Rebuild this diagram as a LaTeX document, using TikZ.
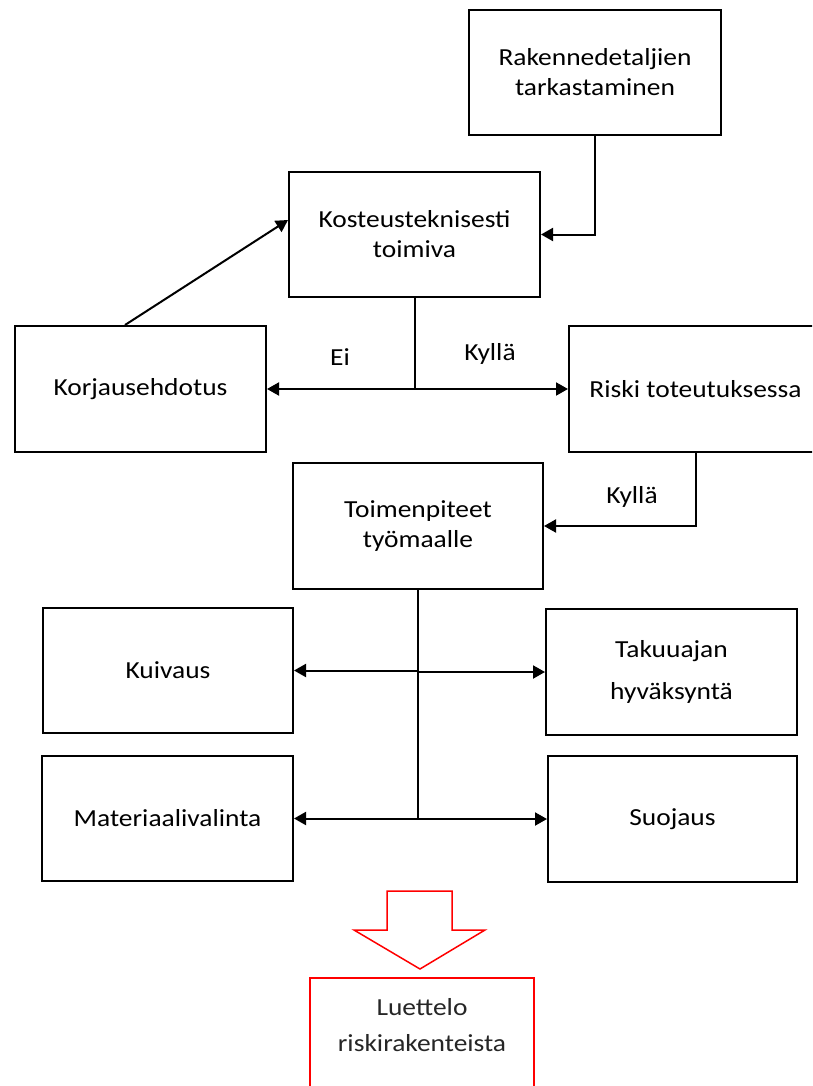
\documentclass[tikz,border=0pt]{standalone}
\usepackage{fontspec}
\setmainfont{Carlito}[FakeStretch=1.12]
\usetikzlibrary{arrows.meta}
\begin{document}
\begin{tikzpicture}[x=1pt,y=-1pt,
  txt/.style={inner sep=0pt,align=center,font=\fontsize{24.5}{30}\selectfont},
  box/.style={txt,draw,line width=2pt,minimum width=251,minimum height=125},
  conn/.style={line width=2pt},
  arr/.style={conn,-{Triangle[length=12pt,width=13pt]}}]
\useasboundingbox (0,0) rectangle (812,1086);
\clip (0,0) rectangle (812,1086);
\fill[white] (0,0) rectangle (812,1086);
\node[box,minimum width=252] (rak) at (595,72.5) {Rakennedetaljien\\tarkastaminen};
\node[box] (kos) at (414.5,234.5) {Kosteusteknisesti\\toimiva};
\node[box,minimum height=126] (kor) at (140.5,389) {Korjausehdotus};
\node[box,minimum width=253,minimum height=126] (ris) at (695.5,389) {Riski toteutuksessa};
\node[box,minimum width=250,minimum height=126] (toi) at (418,526) {Toimenpiteet\\työmaalle};
\node[box,minimum width=250] (kui) at (168,670.5) {Kuivaus};
\node[box,minimum height=126,font=\fontsize{24.5}{42}\selectfont] (tak) at (671.5,672) {Takuuajan\\hyväksyntä};
\node[box] (mat) at (167.5,818.5) {Materiaalivalinta};
\node[box,minimum width=249,minimum height=126] (suo) at (672.5,819) {Suojaus};
\node[draw=red,line width=2pt,minimum width=224,minimum height=250,anchor=north] (luebox) at (422,977) {};
\node[txt,text=black!85,font=\fontsize{24.5}{36}\selectfont] (lue) at (422,1025) {Luettelo\\riskirakenteista};
\draw[red,line width=1.5pt,line join=miter] (387,891) -- (452,891) -- (452,930) -- (485,930) -- (420,969) -- (354,930) -- (387,930) -- cycle;
\node[txt] (ei) at (340,357) {Ei};
\node[txt] (ky1) at (490,354) {Kyllä};
\node[txt] (ky2) at (632,497) {Kyllä};
\draw[arr] (rak.south) |- (kos.east);
\draw[arr] ([xshift=-15.5pt]kor.north) -- ([yshift=14.5pt]kos.west);
\coordinate (j1) at (kos.south |- kor.east);
\draw[conn] (kos.south) -- (j1);
\draw[arr] (j1) -- (kor.east);
\draw[arr] (j1) -- (ris.west);
\draw[arr] (ris.south) |- (toi.east);
\coordinate (j2) at (toi.south |- mat.east);
\coordinate (j3) at (toi.south |- kui.east);
\coordinate (j4) at (toi.south |- tak.west);
\coordinate (j5) at (toi.south |- suo.west);
\draw[conn] (toi.south) -- (j2);
\draw[arr] (j3) -- (kui.east);
\draw[arr] (j4) -- (tak.west);
\draw[arr] (j2) -- (mat.east);
\draw[arr] (j5) -- (suo.west);
\end{tikzpicture}
\end{document}
